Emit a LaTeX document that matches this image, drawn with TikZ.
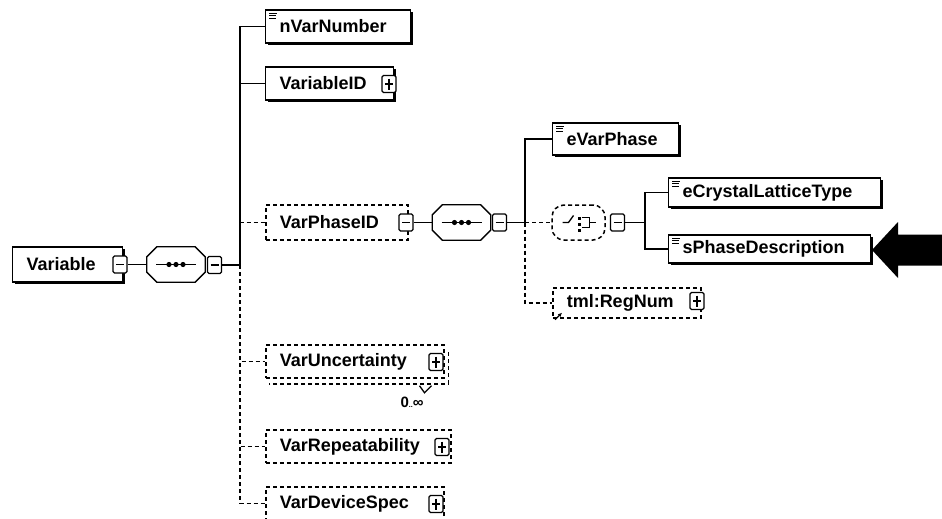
\documentclass[tikz,border=0pt]{standalone}
\usepackage{fontspec}
\setmainfont{Liberation Sans}
\usetikzlibrary{shadows,arrows.meta}

\tikzstyle{box} = [ draw,line width=1.3pt,fill=white,anchor=west,align=left,
                    inner xsep=14pt,inner ysep=0pt,
                    font=\bfseries\fontsize{18}{20}\selectfont]
\tikzstyle{elem} = [ box,drop shadow={shadow xshift=2pt,shadow yshift=-2pt,
                     fill=black,opacity=1}]
\tikzstyle{optelem} = [ box,line width=1.5pt,dash pattern=on 4pt off 3pt]
\tikzstyle{pm} = [ draw,line width=1.2pt,fill=white,rounded corners=1.5pt,
                   minimum width=14pt,minimum height=17pt,inner sep=0pt]
\tikzstyle{minus} = [ pm,path picture={\draw[line width=1.2pt]
                      ([xshift=3pt]path picture bounding box.west) --
                      ([xshift=-3pt]path picture bounding box.east);}]
\tikzstyle{plus} = [ pm,path picture={\draw[line width=1.2pt]
                     ([xshift=3pt]path picture bounding box.west) --
                     ([xshift=-3pt]path picture bounding box.east)
                     ([yshift=-3pt]path picture bounding box.north) --
                     ([yshift=3pt]path picture bounding box.south);}]
\tikzstyle{seq} = [ minimum width=58pt,minimum height=35pt,inner sep=0pt]
\tikzstyle{choicebox} = [ draw,line width=1.5pt,dash pattern=on 4pt off 3pt,
                          rounded corners=12pt,minimum width=53pt,
                          minimum height=35pt,inner sep=0pt]
\tikzstyle{conn} = [line width=1.4pt]
\tikzstyle{optconn} = [line width=1.6pt,dash pattern=on 4pt off 3pt]

\newcommand{\simplemark}[1]{%
  \draw[line width=1.1pt] ([shift={(4,4)}]#1.north west) -- +(8,0)
                          ([shift={(4,6.5)}]#1.north west) -- +(7,0)
                          ([shift={(4,9)}]#1.north west) -- +(7,0);}
\newcommand{\seqsymbol}[1]{%
  \draw[line width=1.3pt,fill=white]
    ([xshift=10pt]#1.north west) -- ([xshift=-10pt]#1.north east)
    -- ([yshift=-10pt]#1.north east) -- ([yshift=10pt]#1.south east)
    -- ([xshift=-10pt]#1.south east) -- ([xshift=10pt]#1.south west)
    -- ([yshift=10pt]#1.south west) -- ([yshift=-10pt]#1.north west) -- cycle;
  \draw[line width=1.3pt] (#1.center) +(-20,0) -- +(20,0);
  \foreach \dx in {-7,0,7}
    \fill (#1.center) +(\dx,0) circle (2.6pt);}

\begin{document}
\begin{tikzpicture}[x=1pt,y=-1pt]
  \useasboundingbox (0,0) rectangle (942,519);

  \node[elem,text width=82pt,minimum height=35pt] at (12,264.5) (var) {Variable};
  \node[minus] at (120,264.5) (varmin) {};
  \node[seq] at (176,264.5) (seq1) {};
  \seqsymbol{seq1}
  \node[minus] at (214.5,265) (seq1min) {};

  \node[elem,text width=117pt,minimum height=33pt] at (265,26.5) (nvar) {nVarNumber};
  \node[elem,text width=100pt,minimum height=33pt] at (265,83.5) (varid) {VariableID};
  \node[plus] at (389,84) (varidplus) {};
  \node[optelem,text width=114pt,minimum height=35pt] at (265,222.5) (phase) {VarPhaseID};
  \node[minus] at (406,222.5) (phasemin) {};
  \node[optelem,text width=150pt,minimum height=33pt] at (265,361.5) (unc) {VarUncertainty};
  \node[plus] at (436,362) (uncplus) {};
  \node[optelem,text width=157pt,minimum height=33pt] at (265,446.5) (rep) {VarRepeatability};
  \node[plus] at (442,447) (repplus) {};
  \node[optelem,text width=150pt,minimum height=33pt] at (265,503.5) (dev) {VarDeviceSpec};
  \node[plus] at (436,504) (devplus) {};

  \draw[line width=1.5pt,dash pattern=on 4pt off 3pt]
    ([shift={(4,8)}]unc.north east) -- ([shift={(4,5)}]unc.south east)
    -- ([shift={(4,5)}]unc.south west);
  \draw[line width=1.3pt] ([shift={(-25,7)}]unc.south east) -- ++(5,7) -- ++(7,-7);
  \node[font=\bfseries\fontsize{15}{17}\selectfont] at (412,402) (uncmult) {0{\scriptsize..}∞};

  \node[seq] at (461.5,222.5) (seq2) {};
  \seqsymbol{seq2}
  \node[minus] at (499.5,222.5) (seq2min) {};

  \node[elem,text width=98pt,minimum height=32pt] at (552,139) (evp) {eVarPhase};
  \node[choicebox] at (578.5,222.5) (choice) {};
  \draw[line width=1.3pt] (choice.center) +(-16,0) -- +(-10,0) -- +(-5,-7);
  \foreach \dy in {-6,0,6}
    \fill (choice.center) ++(-1,\dy) rectangle +(3.5,3.5);
  \draw[line width=1.3pt] (choice.center) +(3,-5) -- +(11,-5) -- +(11,5) -- +(3,5)
                          +(11,0) -- +(17,0);
  \node[minus] at (617.5,222.5) (chmin) {};
  \node[optelem,text width=120pt,minimum height=30pt] at (552,303) (reg) {tml:RegNum};
  \node[plus] at (697,301) (regplus) {};
  \draw[-{Latex[length=4pt,width=4pt]},line width=1.3pt]
    ([shift={(3,1)}]reg.south west) -- ++(7,-7);

  \node[elem,text width=184pt,minimum height=29pt] at (668,192.5) (ecl) {eCrystalLatticeType};
  \node[elem,text width=174pt,minimum height=28pt] at (668,249) (sph) {sPhaseDescription};

  \simplemark{nvar}
  \simplemark{evp}
  \simplemark{ecl}
  \simplemark{sph}

  \coordinate (t1) at (240,265);
  \coordinate (t2) at (525,222.5);
  \coordinate (t3) at (645,222.5);
  \coordinate (pointer) at (872,250);

  \draw[conn] (varmin.east) -- (seq1.west);
  \draw[conn] (seq1min.east) -- (t1);
  \draw[conn] (t1) |- (nvar.west);
  \draw[conn] (t1) |- (varid.west);
  \draw[optconn] (t1) |- (phase.west);
  \draw[optconn] (t1) |- (unc.west);
  \draw[optconn] (t1) |- (rep.west);
  \draw[optconn] (t1) |- (dev.west);

  \draw[conn] (phasemin.east) -- (seq2.west);
  \draw[conn] (seq2min.east) -- (t2);
  \draw[conn] (t2) |- (evp.west);
  \draw[optconn] (t2) -- (choice.west);
  \draw[optconn] (t2) |- (reg.west);

  \draw[conn] (chmin.east) -- (t3);
  \draw[conn] (t3) |- (ecl.west);
  \draw[conn] (t3) |- (sph.west);

  \fill (pointer) -- ++(26,-28) -- ++(0,12.5) -- ++(50,0) -- ++(0,31)
        -- ++(-50,0) -- ++(0,12.5) -- cycle;
\end{tikzpicture}
\end{document}
